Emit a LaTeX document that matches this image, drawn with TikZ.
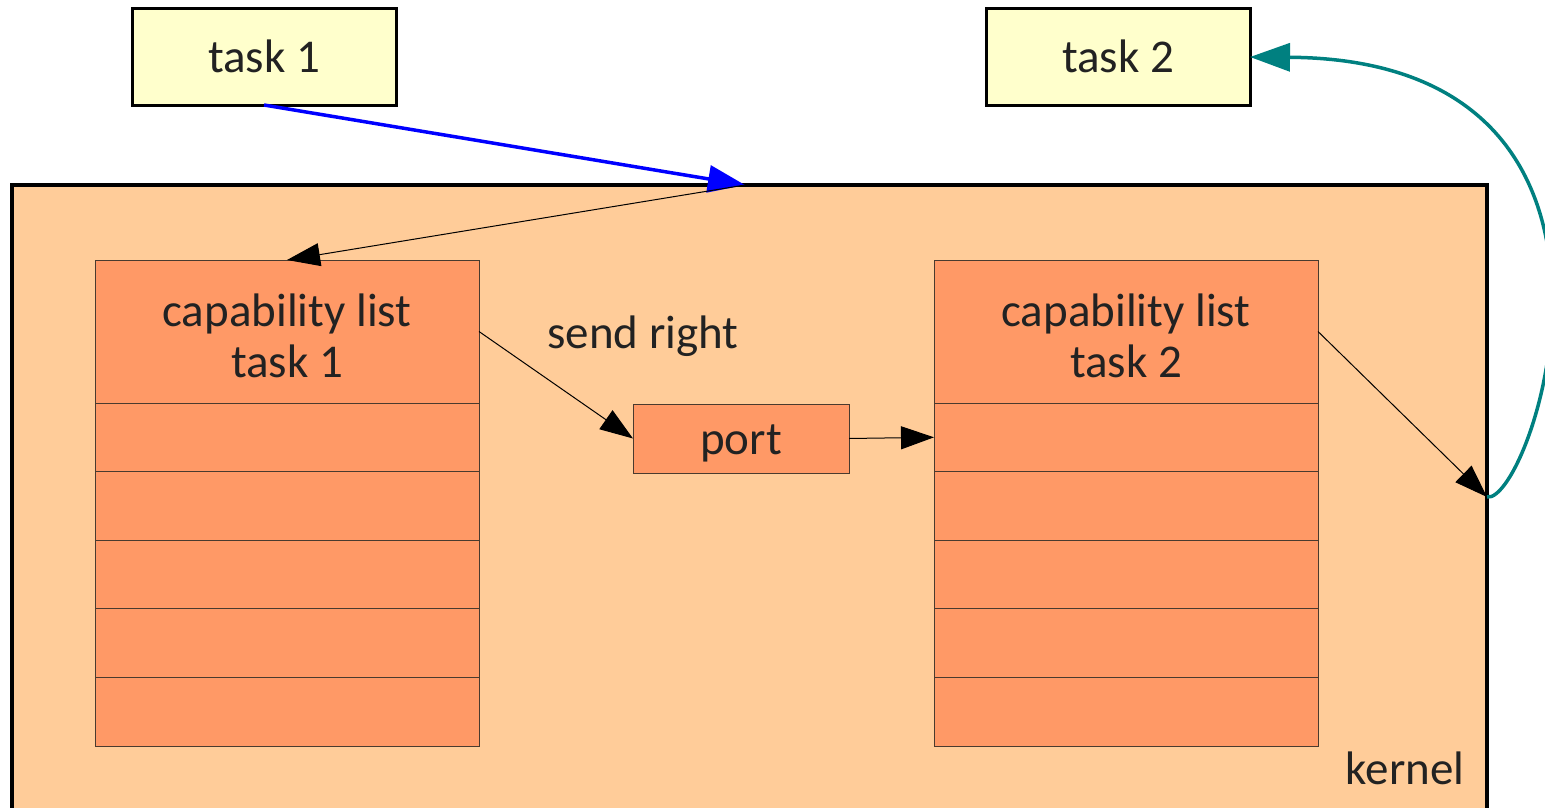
\documentclass[tikz,border=0pt]{standalone}
\usepackage{fontspec}
\setmainfont{Carlito}
\usetikzlibrary{arrows.meta}
\definecolor{taskfill}{HTML}{FFFFCC}
\definecolor{kernelfill}{HTML}{FFCC99}
\definecolor{capfill}{HTML}{FF9966}
\definecolor{capline}{HTML}{4A3A2E}
\definecolor{txt}{HTML}{222222}
\definecolor{tealline}{HTML}{008080}
\tikzset{
  x=1pt, y=-1pt,
  every node/.style={font=\fontsize{47}{51}\selectfont, text=txt, inner sep=0pt, outer sep=0pt,
    align=center, text height=32pt, text depth=0pt},
  taskbox/.style={draw=black, line width=3pt, fill=taskfill, minimum width=264pt, minimum height=96pt},
  kernelbox/.style={draw=black, line width=4pt, fill=kernelfill, minimum width=1475pt, minimum height=660pt, anchor=north west},
  caphead/.style={draw=capline, line width=1pt, fill=capfill, minimum width=384pt, minimum height=143pt,
    anchor=north west, text height=91pt},
  caprow/.style={draw=capline, line width=1pt, fill=capfill, minimum width=384pt, minimum height=68.6pt, anchor=north},
  portbox/.style={draw=capline, line width=1pt, fill=capfill, minimum width=216pt, minimum height=69pt},
  thinarrow/.style={draw=black, line width=1pt, -{Triangle[length=33pt, width=23pt]}},
  callarrow/.style={draw=blue, line width=3.5pt, -{Triangle[length=37pt, width=27pt]}},
  replyarrow/.style={draw=tealline, line width=3.5pt, -{Triangle[length=40pt, width=28pt]}},
}
\begin{document}
\begin{tikzpicture}
\useasboundingbox (0,0) rectangle (1545,808);
\clip (0,0) rectangle (1545,808);

% tasks
\node[taskbox] (task1) at (264,57) {task 1};
\node[taskbox] (task2) at (1118,57) {task 2};

% kernel area
\node[kernelbox] (kernel) at (12,185) {};
\node (kernellabel) at (1405,768) {kernel};

% capability list of task 1
\node[caphead] (cap1h) at (95,260) {capability list\\task 1};
\node[caprow] (cap1r1) at (cap1h.south) {};
\node[caprow] (cap1r2) at (cap1r1.south) {};
\node[caprow] (cap1r3) at (cap1r2.south) {};
\node[caprow] (cap1r4) at (cap1r3.south) {};
\node[caprow] (cap1r5) at (cap1r4.south) {};

% capability list of task 2
\node[caphead] (cap2h) at (934,260) {capability list\\task 2};
\node[caprow] (cap2r1) at (cap2h.south) {};
\node[caprow] (cap2r2) at (cap2r1.south) {};
\node[caprow] (cap2r3) at (cap2r2.south) {};
\node[caprow] (cap2r4) at (cap2r3.south) {};
\node[caprow] (cap2r5) at (cap2r4.south) {};

% port
\node[portbox] (port) at (741,438.5) {port};
\node (sendright) at (643,332) {send right};

% points where the call enters and leaves the kernel
\coordinate (kin) at (745,185);
\coordinate (kout) at (1487,497);

% connectors
\draw[callarrow] (task1.south) -- (kin);
\draw[thinarrow] (kin) -- (cap1h.north);
\draw[thinarrow] (cap1h.east) -- (port.west);
\draw[thinarrow] (port.east) -- (cap2r1.west);
\draw[thinarrow] (cap2h.east) -- (kout);
\draw[replyarrow] (kout) .. controls (1532,505) and (1680,60) .. (task2.east);
\end{tikzpicture}
\end{document}
